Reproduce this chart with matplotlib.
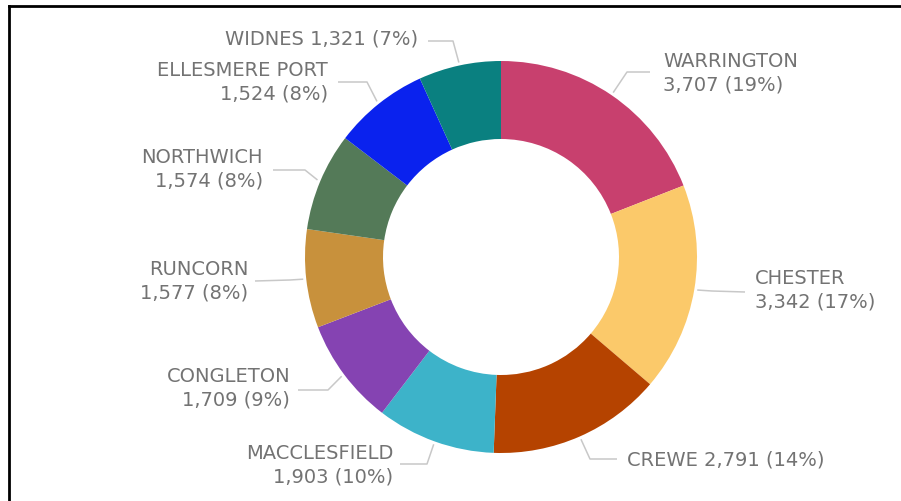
import numpy as np
import matplotlib
matplotlib.use("Agg")
import matplotlib.pyplot as plt
from matplotlib.lines import Line2D

# data, clockwise from 12 o'clock
towns = ["WARRINGTON", "CHESTER", "CREWE", "MACCLESFIELD", "CONGLETON",
         "RUNCORN", "NORTHWICH", "ELLESMERE PORT", "WIDNES"]
counts = [3707, 3342, 2791, 1903, 1709, 1577, 1574, 1524, 1321]
pcts = [19, 17, 14, 10, 9, 8, 8, 8, 7]
colours = ["#C8406E", "#FBC96A", "#B54300", "#3DB3C9", "#8543B2",
           "#C8913C", "#547A58", "#0A22EE", "#0A8080"]

W, H = 901, 502
CX, CY, R = 501, 258, 196      # donut centre / radius in image pixels

# label layout (image pixels): text anchor x, y, align, one line?, elbow, line end
label_layout = [
    (663, 73, "left", False, (627, 73), (650, 73)),
    (755, 290, "left", False, (712, 292), (745, 293)),
    (627, 460, "left", True, (590, 460), (617, 460)),
    (393, 465, "right", False, (427, 465), (400, 465)),
    (290, 388, "right", False, (328, 391), (298, 391)),
    (248, 281, "right", False, (290, 281), (255, 282)),
    (263, 169, "right", False, (305, 171), (273, 171)),
    (328, 82, "right", False, (367, 83), (338, 83)),
    (418, 39, "right", True, (453, 42), (428, 42)),
]

fig = plt.figure(figsize=(W / 100, H / 100), dpi=100)
ax = fig.add_axes([0, 0, 1, 1])

ax.pie(counts, colors=colours, startangle=90, counterclock=False,
       radius=R, center=(CX, H - CY),
       wedgeprops=dict(width=78, linewidth=0))
ax.set_xlim(0, W)
ax.set_ylim(0, H)
ax.set_aspect("equal")
ax.axis("off")

total = sum(counts)
start = 0.0
for i, town in enumerate(towns):
    frac = counts[i] / total
    mid = (start + frac / 2) * 2 * np.pi
    start += frac
    sx = CX + (R + 3) * np.sin(mid)
    sy = CY - (R + 3) * np.cos(mid)
    tx, ty, ha, oneline, elbow, end = label_layout[i]
    xs = [sx, elbow[0], end[0]]
    ys = [H - sy, H - elbow[1], H - end[1]]
    ax.plot(xs, ys, color="#c8c8c8", lw=1.1, solid_capstyle="butt")
    if oneline:
        txt = f"{town} {counts[i]:,} ({pcts[i]}%)"
    else:
        txt = f"{town}\n{counts[i]:,} ({pcts[i]}%)"
    ax.text(tx, H - ty, txt, ha=ha, va="center", color="#737373",
            fontsize=14, family="DejaVu Sans", linespacing=1.3,
            multialignment=ha)

# frame lines on top and left
fig.add_artist(Line2D([9 / W, 1], [1 - 7 / H, 1 - 7 / H], color="black", lw=2,
                      transform=fig.transFigure))
fig.add_artist(Line2D([9 / W, 9 / W], [0, 1 - 7 / H], color="black", lw=2,
                      transform=fig.transFigure))

fig.savefig("out.png", dpi=100, facecolor="white")
